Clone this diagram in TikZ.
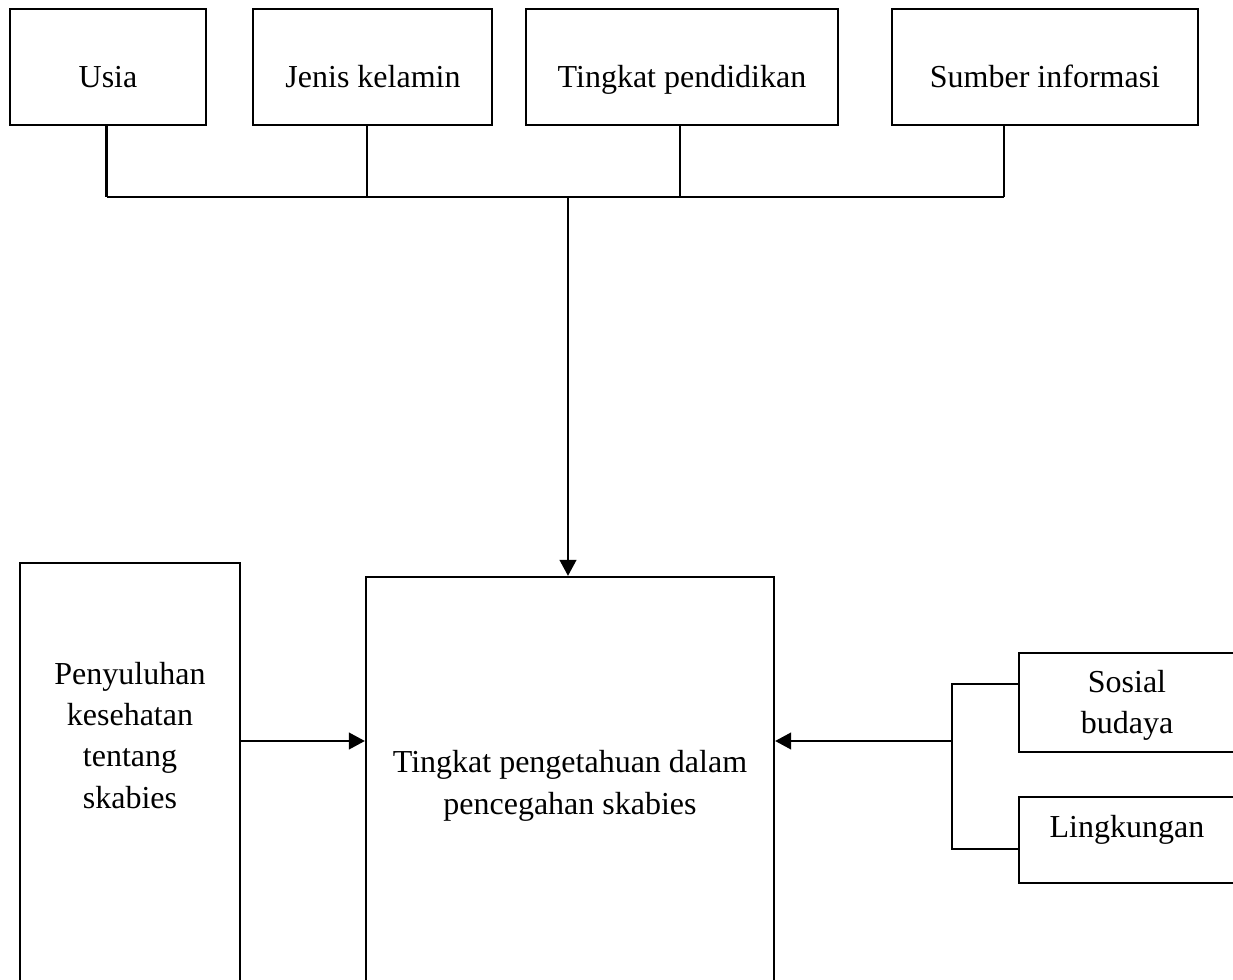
\documentclass[tikz,border=0pt]{standalone}
\usepackage{fontspec}
\setmainfont{Liberation Serif}
\usetikzlibrary{arrows.meta,fit}
\begin{document}
\begin{tikzpicture}[x=0.75pt,y=-0.75pt,
  box/.style={draw,line width=1.7pt,inner sep=0pt},
  conn/.style={line width=1.6pt},
  arr/.style={line width=1.6pt,-{Triangle[length=12pt,width=12.5pt]}},
  lbl/.style={font=\fontsize{24}{31}\selectfont,align=center,inner sep=0pt,anchor=base}]
\useasboundingbox (0,0) rectangle (1233,980);
\clip (0,0) rectangle (1233,980);
% boxes
\node[box,fit={(10,9) (206,125)}] (usia) {};
\node[box,fit={(253,9) (492,125)}] (jenis) {};
\node[box,fit={(526,9) (838,125)}] (tingkat) {};
\node[box,fit={(892,9) (1198,125)}] (sumber) {};
\node[box,fit={(20,563) (240,1010)}] (peny) {};
\node[box,fit={(366,577) (774,1010)}] (tp) {};
\node[box,fit={(1019,653) (1260,752)}] (sosial) {};
\node[box,fit={(1019,797) (1260,883)}] (lingk) {};
% texts (base anchor = baseline of the last line)
\node[lbl] (tusia) at (108,88) {Usia};
\node[lbl] (tjenis) at (373,88) {Jenis kelamin};
\node[lbl] (ttingkat) at (682,88) {Tingkat pendidikan};
\node[lbl] (tsumber) at (1045,88) {Sumber informasi};
\node[lbl] (tpeny) at (130,808) {Penyuluhan\\kesehatan\\tentang\\skabies};
\node[lbl] (ttp) at (570,814) {Tingkat pengetahuan dalam\\pencegahan skabies};
\node[lbl] (tsosial) at (1127,734) {Sosial\\budaya};
\node[lbl] (tlingk) at (1127,837) {Lingkungan};
% bus
\coordinate (d1) at (106.5,197);
\coordinate (d2) at (367,197);
\coordinate (d3) at (680,197);
\coordinate (d4) at (1004,197);
\coordinate (dm) at (568,197);
\draw[conn] (usia.south -| d1) -- (d1);
\draw[conn] (jenis.south -| d2) -- (d2);
\draw[conn] (tingkat.south -| d3) -- (d3);
\draw[conn] (sumber.south -| d4) -- (d4);
\draw[conn] (d1) -- (d4);
\draw[arr] (dm) -- (tp.north -| dm);
% left arrow
\coordinate (la) at (240,741);
\draw[arr] (peny.east |- la) -- (tp.west |- la);
% right bracket
\coordinate (bk) at (952,741);
\coordinate (bt) at (952,684);
\coordinate (bb) at (952,849);
\draw[conn] (bt -| sosial.west) -- (bt) -- (bb) -- (bb -| lingk.west);
\draw[arr] (bk) -- (bk -| tp.east);
\end{tikzpicture}
\end{document}
